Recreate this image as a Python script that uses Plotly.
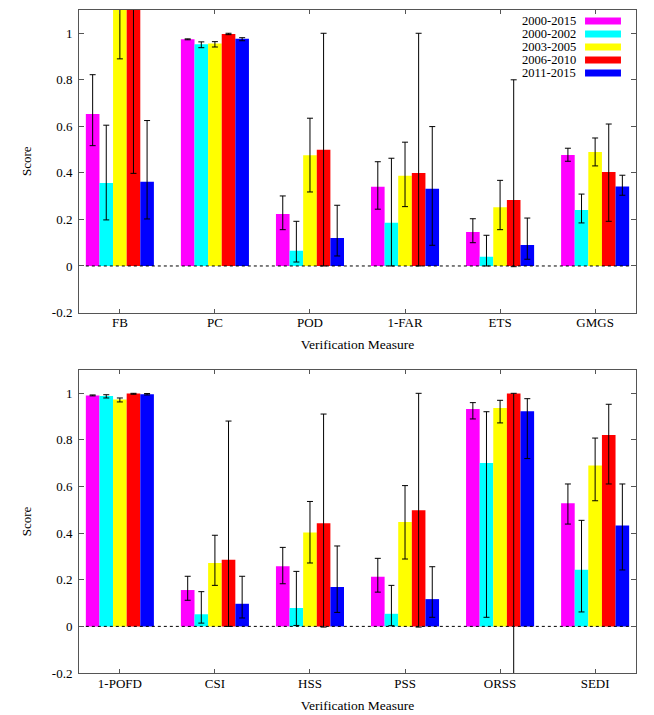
import plotly.graph_objects as go

# Verification scores per period (bar value, lower and upper error limits)
periods = ["2000-2015", "2000-2002", "2003-2005", "2006-2010", "2011-2015"]
colors = ["#ff00ff", "#00ffff", "#ffff00", "#ff0000", "#0000ff"]

measures_top = ["FB", "PC", "POD", "1-FAR", "ETS", "GMGS"]
measures_bot = ["1-POFD", "CSI", "HSS", "PSS", "ORSS", "SEDI"]

# top panel, one list per period, in order of measures_top
top_val = [
    [0.653, 0.974, 0.223, 0.341, 0.146, 0.477],
    [0.357, 0.953, 0.066, 0.186, 0.040, 0.241],
    [1.500, 0.956, 0.476, 0.388, 0.252, 0.490],
    [1.600, 0.997, 0.499, 0.400, 0.284, 0.404],
    [0.362, 0.976, 0.120, 0.332, 0.090, 0.342],
]
top_lo = [
    [0.517, 0.972, 0.156, 0.244, 0.100, 0.450],
    [0.198, 0.938, 0.017, 0.000, 0.000, 0.185],
    [0.890, 0.941, 0.318, 0.255, 0.156, 0.430],
    [0.398, 0.994, 0.000, 0.000, -0.003, 0.192],
    [0.202, 0.968, 0.043, 0.089, 0.029, 0.304],
]
top_hi = [
    [0.822, 0.976, 0.301, 0.448, 0.203, 0.506],
    [0.605, 0.963, 0.192, 0.463, 0.132, 0.309],
    [2.100, 0.964, 0.635, 0.532, 0.368, 0.550],
    [2.800, 1.000, 1.000, 1.000, 0.800, 0.610],
    [0.625, 0.981, 0.261, 0.599, 0.206, 0.390],
]

# bottom panel, in order of measures_bot
bot_val = [
    [0.991, 0.156, 0.258, 0.213, 0.933, 0.528],
    [0.989, 0.052, 0.079, 0.054, 0.701, 0.243],
    [0.974, 0.272, 0.403, 0.448, 0.937, 0.690],
    [0.999, 0.286, 0.443, 0.498, 0.999, 0.821],
    [0.996, 0.097, 0.169, 0.117, 0.923, 0.433],
]
bot_lo = [
    [0.989, 0.112, 0.183, 0.147, 0.890, 0.439],
    [0.980, 0.014, 0.004, 0.003, 0.039, 0.062],
    [0.963, 0.176, 0.272, 0.289, 0.873, 0.539],
    [0.996, 0.000, -0.003, -0.003, -0.500, 0.611],
    [0.993, 0.036, 0.060, 0.039, 0.720, 0.242],
]
bot_hi = [
    [0.993, 0.215, 0.339, 0.292, 0.960, 0.611],
    [0.994, 0.149, 0.236, 0.176, 0.921, 0.455],
    [0.980, 0.391, 0.536, 0.604, 0.970, 0.808],
    [1.000, 0.881, 0.911, 1.000, 1.000, 0.953],
    [0.999, 0.215, 0.345, 0.256, 0.977, 0.611],
]

y_ticks = [-0.2, 0, 0.2, 0.4, 0.6, 0.8, 1]
y_labels = ["-0.2", "0", "0.2", "0.4", "0.6", "0.8", "1"]

FONT = "Liberation Serif"
fig = go.Figure()


def add_panel(vals, los, his, xa, ya):
    for i, name in enumerate(periods):
        v = vals[i]
        plus = [h - a for h, a in zip(his[i], v)]
        minus = [a - l for a, l in zip(v, los[i])]
        fig.add_trace(go.Bar(
            x=list(range(len(v))), y=v, name=name,
            marker=dict(color=colors[i], line=dict(width=0)),
            error_y=dict(type="data", symmetric=False, array=plus, arrayminus=minus,
                         color="black", thickness=1, width=3),
            xaxis=xa, yaxis=ya, showlegend=False,
        ))


add_panel(top_val, top_lo, top_hi, "x", "y")
add_panel(bot_val, bot_lo, bot_hi, "x2", "y2")

axis_common = dict(showline=True, linecolor="#555", linewidth=1, mirror="ticks",
                   ticks="inside", tickcolor="#555", showgrid=False, zeroline=False,
                   automargin=False,
                   tickfont=dict(family=FONT, size=13, color="black"))

xa = dict(range=[-0.43, 5.43], tickmode="array", tickvals=list(range(6)), ticklen=4,
          ticklabelstandoff=-2,
          title=dict(text="Verification Measure", standoff=10,
                     font=dict(family=FONT, size=13.5, color="black")),
          **axis_common)
ya = dict(range=[-0.2, 1.1], tickmode="array", tickvals=y_ticks, ticktext=y_labels,
          ticklen=5, ticklabelstandoff=3,
          title=dict(text="Score", standoff=17, font=dict(family=FONT, size=13, color="black")),
          **axis_common)

# the page body adds an 8px margin, so the figure is a bit smaller than the window
fig.update_layout(
    width=646, height=707,
    margin=dict(l=71, r=18, t=2, b=42),
    paper_bgcolor="white", plot_bgcolor="white",
    barmode="group", bargap=0.284, bargroupgap=0,
    font=dict(family=FONT, size=13, color="black"),
    xaxis=dict(domain=[0, 1], anchor="y", ticktext=measures_top, **xa),
    yaxis=dict(domain=[0.5437, 1], anchor="x", **ya),
    xaxis2=dict(domain=[0, 1], anchor="y2", ticktext=measures_bot, **xa),
    yaxis2=dict(domain=[0, 0.457], anchor="x2", **ya),
)

# dotted zero line spanning the bar clusters
for xr, yr in [("x", "y"), ("x2", "y2")]:
    fig.add_shape(type="line", xref=xr, yref=yr, x0=-0.358, x1=5.358, y0=0, y1=0,
                  line=dict(color="black", width=1, dash="dot"), layer="above")

# legend in gnuplot style: text then colour sample, top right of upper panel
for i, name in enumerate(periods):
    yc = 0.9636 - i * 0.043
    fig.add_annotation(xref="x domain", yref="y domain", x=0.894, y=yc, text=name,
                       showarrow=False, xanchor="right", yanchor="middle", borderpad=0,
                       font=dict(family=FONT, size=12.5, color="black"))
    fig.add_shape(type="rect", xref="x domain", yref="y domain",
                  x0=0.9085, x1=0.973, y0=yc - 0.0116, y1=yc + 0.0116,
                  fillcolor=colors[i], line=dict(width=0))

fig.write_html("out.html")
